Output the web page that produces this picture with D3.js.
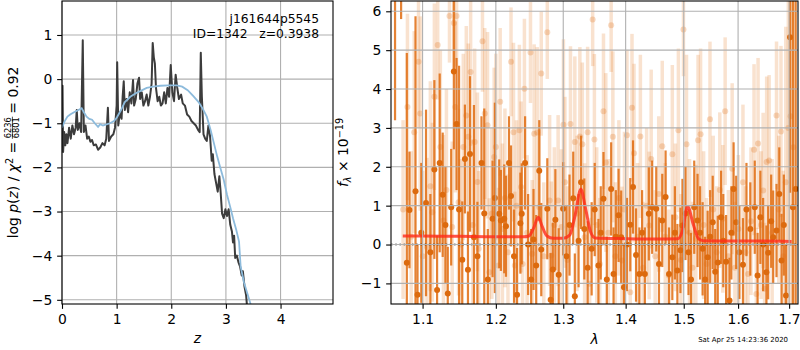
<!DOCTYPE html>
<html>
<head>
<meta charset="utf-8">
<script src="https://cdn.jsdelivr.net/npm/d3@7"></script>
<style>
  body { margin: 0; background: #fff; }
  text { font-family: "DejaVu Sans", sans-serif; }
</style>
</head>
<body>
<svg id="chart" width="800" height="350"></svg>
<script>
// ---------- left panel: p(z) ----------
var zTicks = [0, 1, 2, 3, 4];
var logpTicks = [-5, -4, -3, -2, -1, 0, 1];

var zDark = [0.00,0.01,0.02,0.04,0.06,0.08,0.10,0.13,0.16,0.19,0.22,0.25,0.27,0.29,0.32,0.35,0.38,0.40,0.43,0.46,
  0.49,0.52,0.55,0.58,0.62,0.66,0.70,0.74,0.78,0.81,0.84,0.86,0.90,0.94,0.97,1.00,1.01,1.03,1.06,1.09,
  1.11,1.13,1.15,1.18,1.21,1.24,1.27,1.30,1.32,1.35,1.38,1.41,1.43,1.46,1.49,1.52,1.55,1.58,1.61,1.64,
  1.66,1.68,1.70,1.72,1.75,1.78,1.81,1.84,1.87,1.90,1.93,1.96,1.99,2.02,2.05,2.08,2.11,2.14,2.18,2.21,
  2.25,2.29,2.33,2.37,2.41,2.45,2.49,2.52,2.54,2.56,2.59,2.62,2.65,2.68,2.71,2.74,2.76,2.79,2.82,2.85,
  2.88,2.90,2.93,2.96,2.99,3.02,3.05,3.08,3.11,3.13,3.15,3.17,3.20,3.23,3.26,3.29,3.31,3.34,3.37,3.39];
var logpDark = [-1.55,-0.15,-1.65,-1.2,-1.5,-1.25,-1.45,-1.1,-1.35,-1.05,-1.25,-1.1,-0.7,-1.15,-1.0,-1.2,0.88,-1.2,-1.05,-1.35,
  -1.3,-1.42,-1.38,-1.5,-1.48,-1.6,-1.55,-1.45,-1.5,-1.35,-0.65,-1.4,-1.3,-1.25,-1.1,-0.6,0.38,-1.05,-0.75,-0.9,
  -0.4,-0.05,-0.7,-0.45,-0.75,-0.3,-0.55,-0.02,-0.6,-0.45,-0.1,0.03,-0.45,-0.3,-0.6,-0.5,-0.35,-0.6,-0.4,-0.1,
  0.82,0.5,0.35,-0.2,-0.5,-0.4,-0.6,-0.55,-0.3,-0.55,-0.2,-0.4,0.32,-0.3,-0.5,0.1,-0.2,-0.45,-0.35,-0.55,
  -0.6,-0.8,-0.85,-0.95,-1.0,-1.05,-1.15,-1.2,0.6,-0.4,-1.25,-1.35,-1.4,-1.05,-1.3,-1.85,-1.7,-2.15,-2.35,-2.55,
  -2.2,-2.5,-3.05,-3.15,-2.95,-3.1,-2.95,-3.3,-3.45,-3.7,-3.55,-4.05,-4.0,-4.15,-4.25,-4.45,-4.35,-4.7,-4.9,-5.2];

var zFit = [0.00,0.05,0.10,0.15,0.22,0.30,0.36,0.40,0.45,0.50,0.55,0.60,0.66,0.70,0.75,0.80,0.88,0.95,1.00,1.08,
  1.15,1.25,1.35,1.45,1.55,1.67,1.80,1.95,2.10,2.20,2.30,2.40,2.50,2.58,2.65,2.72,2.78,2.84,2.90,2.96,
  3.02,3.08,3.13,3.19,3.24,3.27,3.33,3.44,3.50];
var logpFit = [-1.1,-0.95,-0.85,-0.8,-0.75,-0.7,-0.66,-0.75,-0.85,-0.9,-0.92,-1.0,-1.08,-1.02,-1.05,-1.03,-1.0,-0.95,-0.88,-0.7,
  -0.52,-0.4,-0.32,-0.26,-0.2,-0.17,-0.15,-0.14,-0.14,-0.17,-0.25,-0.38,-0.52,-0.68,-0.85,-1.15,-1.45,-1.75,-2.02,-2.28,
  -2.62,-2.9,-3.15,-3.42,-3.68,-4.25,-4.6,-5.05,-5.3];

// ---------- right panel: 1D spectrum ----------
var lamTicks = [1.1, 1.2, 1.3, 1.4, 1.5, 1.6, 1.7];
var fluxTicks = [-1, 0, 1, 2, 3, 4, 5, 6];

var lamDark = [1.0646,1.0723,1.0796,1.0830,1.0908,1.0934,1.0983,1.1045,1.1102,1.1155,1.1191,1.1226,1.1266,1.1303,1.1334,1.1380,
  1.1416,1.1453,1.1487,1.1531,1.1567,1.1609,1.1637,1.1692,1.1740,1.1797,1.1836,1.1886,1.1953,1.1986,1.2048,1.2072,
  1.2120,1.2145,1.2189,1.2218,1.2262,1.2306,1.2355,1.2375,1.2424,1.2469,1.2514,1.2549,1.2589,1.2635,1.2665,1.2756,
  1.2807,1.2840,1.2879,1.2930,1.2998,1.3050,1.3097,1.3155,1.3180,1.3239,1.3278,1.3329,1.3382,1.3446,1.3495,1.3555,
  1.3592,1.3636,1.3690,1.3761,1.3800,1.3838,1.3883,1.3926,1.3972,1.4022,1.4077,1.4123,1.4174,1.4230,1.4276,1.4323,
  1.4391,1.4448,1.4518,1.4565,1.4622,1.4680,1.4740,1.4798,1.4843,1.4887,1.4941,1.4977,1.5031,1.5085,1.5130,1.5188,
  1.5248,1.5294,1.5340,1.5386,1.5432,1.5478,1.5525,1.5571,1.5618,1.5680,1.5721,1.5774,1.5838,1.5873,1.5915,1.5964,
  1.6025,1.6093,1.6160,1.6234,1.6320,1.6375,1.6429,1.6483,1.6548,1.6582,1.6641,1.6681,1.6747,1.6802,1.6848,1.6893,
  1.6937,1.7018,1.7076,1.7133];
var fluxDark = [6.6,7.5,-0.47,0.89,1.37,-1.29,0.3,1.07,-0.2,1.93,-1.17,2.1,1.28,0.5,-1.26,0.96,
  4.45,3.1,0.9,-0.39,2.2,-0.65,2.33,0.19,-0.3,2.1,0.8,-0.9,0.66,1.2,0.79,0.62,
  0.66,0.47,2.1,1.25,-0.3,-1.29,0.55,0.79,2.1,0.0,-0.9,0.13,-0.54,1.9,-0.13,0.92,
  -1.42,-0.64,0.64,-0.78,0.92,-0.3,0.5,1.19,-1.33,0.1,1.6,0.4,-0.6,-0.11,0.9,-0.54,
  0.3,1.18,-0.9,1.43,-0.76,0.2,0.75,0.19,-1.1,0.0,0.51,1.48,-0.27,-0.76,0.3,-0.76,
  0.79,0.96,0.92,-0.5,0.62,1.22,-0.76,-0.33,0.3,-0.67,-0.15,0.49,0.8,-0.2,-0.9,0.96,
  0.62,0.3,-0.11,-0.9,-0.33,0.2,0.57,-0.7,-0.46,0.7,0.1,-0.44,-1.44,0.3,1.43,0.57,
  -0.2,-0.52,0.9,0.4,0.96,-0.8,0.7,0.0,-0.71,-0.21,0.6,0.19,0.36,1.3,-0.41,0.5,
  -1.31,5.33,0.96,1.43];
var errDark = [3.4,1.7,5.4,1.5,4.5,1.3,1.8,2.4,1.5,2.3,1.4,2.3,1.6,1.5,1.2,1.5,
  2.0,1.7,3.7,1.5,1.4,1.5,2.0,3.4,1.4,1.2,2.7,1.3,1.5,2.45,1.4,1.3,
  1.4,1.3,1.2,1.3,1.2,1.2,1.3,1.3,1.2,1.3,1.3,1.3,1.3,1.3,1.2,1.3,
  1.2,1.2,1.3,1.2,1.2,1.3,1.3,1.2,1.1,1.2,1.2,1.3,1.2,1.2,1.2,1.2,
  1.2,1.2,1.1,1.2,1.2,1.2,1.2,1.2,1.1,1.2,1.2,1.2,1.2,1.2,1.1,1.2,
  1.2,1.2,1.1,1.2,1.2,1.2,1.2,1.1,1.2,1.2,1.1,1.2,1.2,1.1,1.2,1.2,
  1.2,1.2,1.2,1.1,1.2,1.2,1.2,1.1,1.2,1.2,1.2,1.2,1.1,1.2,1.2,1.2,
  1.2,1.2,1.2,1.2,1.2,1.1,1.2,1.2,1.2,1.2,1.2,1.2,1.2,1.2,1.2,1.3,
  1.3,4.0,6.0,8.0];

var lamLight = [1.0748,1.0804,1.0852,1.0891,1.0947,1.0969,1.1002,1.1058,1.1102,1.1128,1.1155,1.1199,1.1235,1.1276,1.1316,1.1357,
  1.1394,1.1416,1.1436,1.1453,1.1480,1.1508,1.1545,1.1586,1.1614,1.1646,1.1674,1.1702,1.1740,1.1758,1.1811,1.1843,
  1.1882,1.1907,1.1943,1.1976,1.2000,1.2036,1.2062,1.2094,1.2130,1.2174,1.2218,1.2254,1.2274,1.2298,1.2340,1.2365,
  1.2387,1.2414,1.2454,1.2504,1.2529,1.2559,1.2604,1.2635,1.2665,1.2703,1.2756,1.2791,1.2817,1.2863,1.2921,1.2972,
  1.3003,1.3026,1.3065,1.3112,1.3180,1.3215,1.3259,1.3298,1.3334,1.3382,1.3414,1.3462,1.3490,1.3527,1.3576,1.3636,
  1.3674,1.3715,1.3761,1.3789,1.3830,1.3888,1.3938,1.3980,1.4022,1.4077,1.4106,1.4140,1.4200,1.4247,1.4293,1.4353,
  1.4397,1.4431,1.4500,1.4561,1.4622,1.4675,1.4737,1.4798,1.4852,1.4905,1.4950,1.4995,1.5049,1.5103,1.5157,1.5217,
  1.5257,1.5303,1.5358,1.5414,1.5475,1.5534,1.5599,1.5656,1.5712,1.5756,1.5816,1.5888,1.5939,1.6006,1.6093,1.6141,
  1.6189,1.6247,1.6306,1.6351,1.6384,1.6443,1.6483,1.6512,1.6552,1.6601,1.6661,1.6747,1.6792,1.6836,1.6882,1.6933,
  1.6984,1.7030,1.7086];
var fluxLight = [0.9,3.54,0.2,2.89,4.70,3.37,-0.3,-0.07,1.5,0.83,3.80,5.13,2.51,0.62,1.4,5.88,
  0.45,5.70,3.54,5.88,1.09,0.0,2.51,3.32,2.77,4.44,0.5,2.64,1.61,-0.11,5.23,3.37,
  3.07,-0.71,0.8,2.25,2.51,-0.54,3.67,0.4,1.2,-0.2,4.70,2.89,-0.54,1.0,2.94,1.48,
  -0.5,4.01,0.3,4.94,-0.24,2.85,2.88,0.96,4.40,-0.3,5.46,1.13,-0.28,0.5,1.13,0.45,
  3.08,1.6,-0.4,3.1,2.64,0.8,2.78,2.58,0.19,2.89,-1.01,5.79,2.70,0.5,-0.5,3.43,
  2.11,0.3,5.64,2.77,-0.3,1.2,-0.41,0.9,2.81,-1.23,3.52,2.35,0.2,2.78,-0.6,1.0,
  0.49,2.2,-0.3,1.3,2.53,0.2,-0.8,2.32,0.7,2.94,-0.4,5.53,2.58,0.3,-0.6,0.15,
  2.68,2.84,0.5,-0.5,3.22,0.9,-0.2,1.4,0.66,3.43,-0.3,1.95,-0.6,0.4,1.6,-0.2,
  -0.76,0.6,2.44,-1.27,2.60,0.5,1.39,-1.14,2.12,2.16,0.3,3.32,0.9,2.91,-0.3,1.6,
  3.0,3.30,2.5];
var errLight = [2.3,2.4,2.2,2.6,1.7,2.5,2.2,2.3,2.7,2.3,2.4,1.4,2.5,2.2,2.6,1.2,
  2.2,1.2,2.2,1.3,2.4,2.2,2.4,2.3,2.4,1.9,2.2,2.4,2.3,2.0,1.3,2.2,
  2.4,1.9,2.2,2.3,2.4,2.0,1.9,2.2,2.3,2.0,1.4,2.3,1.9,2.2,2.2,2.2,
  1.9,1.8,2.0,1.3,1.9,2.3,2.2,2.0,1.6,1.9,1.2,2.2,1.9,2.0,2.2,2.0,
  2.2,2.2,1.9,2.0,2.2,2.0,2.3,2.1,1.9,2.2,1.7,1.2,2.2,2.0,1.7,2.0,
  2.3,1.9,1.2,2.2,1.9,2.0,1.9,2.0,2.2,1.7,1.9,2.3,1.9,2.1,1.7,2.0,
  1.9,2.3,1.7,2.0,2.2,1.9,1.7,2.3,1.9,2.1,1.7,1.2,2.3,1.9,1.7,1.9,
  2.2,2.2,1.9,1.7,2.0,1.9,1.7,2.0,1.9,1.9,1.7,2.2,1.7,1.9,2.0,1.7,
  1.7,1.9,2.2,1.7,2.2,1.9,2.0,1.7,2.2,2.2,1.9,1.9,1.9,2.2,2.2,4.0,
  6.0,7.0,8.0];

var lamModel = [1.0744,1.10,1.15,1.20,1.24,1.248,1.255,1.262,1.268,1.275,1.285,1.30,1.31,1.318,1.3275,1.335,1.343,1.35,
  1.40,1.45,1.49,1.497,1.507,1.517,1.527,1.535,1.60,1.65,1.705];
var fluxModel = [0.22,0.22,0.21,0.20,0.20,0.22,0.42,0.70,0.46,0.22,0.16,0.16,0.24,0.72,1.42,0.92,0.32,0.17,
  0.15,0.14,0.15,0.32,0.98,0.52,0.14,0.10,0.09,0.09,0.08];

var fontF = '"DejaVu Sans", sans-serif';
var svg = d3.select("#chart");
var gridColor = "#b0b0b0";
var orange = "#e06c10";

function styleAxis(g) {
  g.select(".domain").remove();
  g.attr("font-family", fontF).attr("font-size", 13.9);
  g.selectAll(".tick line").attr("stroke", "#000").attr("stroke-width", 1.1);
  g.selectAll(".tick text").attr("fill", "#000");
}

// ================= LEFT PANEL =================
var L = {left: 62, right: 333, top: 1, bottom: 304};
var xz = d3.scaleLinear().domain([0, 4.96]).range([L.left, L.right]);
var yp = d3.scaleLinear().domain([-5.095, 1.77]).range([L.bottom, L.top]);

svg.append("clipPath").attr("id", "clipL").append("rect")
  .attr("x", L.left).attr("y", L.top).attr("width", L.right - L.left).attr("height", L.bottom - L.top);

var gl = svg.append("g");
gl.selectAll(".gx").data(zTicks).join("line")
  .attr("x1", function(d) { return xz(d); }).attr("x2", function(d) { return xz(d); })
  .attr("y1", L.top).attr("y2", L.bottom).attr("stroke", gridColor).attr("stroke-width", 1.1);
gl.selectAll(".gy").data(logpTicks).join("line")
  .attr("y1", function(d) { return yp(d); }).attr("y2", function(d) { return yp(d); })
  .attr("x1", L.left).attr("x2", L.right).attr("stroke", gridColor).attr("stroke-width", 1.1);

var lineL = d3.line().x(function(d) { return xz(d[0]); }).y(function(d) { return yp(d[1]); });
var plotL = gl.append("g").attr("clip-path", "url(#clipL)");
plotL.append("path").datum(d3.zip(zDark, logpDark)).attr("d", lineL)
  .attr("fill", "none").attr("stroke", "#3c3c3c").attr("stroke-width", 2).attr("stroke-linejoin", "round");
plotL.append("path").datum(d3.zip(zFit, logpFit)).attr("d", lineL)
  .attr("fill", "none").attr("stroke", "#8dbbdc").attr("stroke-width", 1.8);

gl.append("g").attr("transform", "translate(0," + L.bottom + ")")
  .call(d3.axisBottom(xz).tickValues(zTicks).tickFormat(d3.format("d")).tickSize(4.86).tickPadding(4.86))
  .call(styleAxis);
gl.append("g").attr("transform", "translate(" + L.left + ",0)")
  .call(d3.axisLeft(yp).tickValues(logpTicks).tickFormat(d3.format("d")).tickSize(4.86).tickPadding(4.86))
  .call(styleAxis);
gl.append("rect").attr("x", L.left).attr("y", L.top).attr("width", L.right - L.left).attr("height", L.bottom - L.top)
  .attr("fill", "none").attr("stroke", "#000").attr("stroke-width", 1.1);

gl.append("text").attr("x", 319).attr("y", 23).attr("text-anchor", "end").attr("font-size", 12.3)
  .text("j161644p5545");
gl.append("text").attr("x", 319).attr("y", 37.7).attr("text-anchor", "end").attr("font-size", 12.3)
  .style("white-space", "pre").text("ID=1342   z=0.3938");

gl.append("text").attr("x", (L.left + L.right) / 2).attr("y", 343).attr("text-anchor", "middle")
  .attr("font-size", 13.9).attr("font-style", "italic").text("z");

// y label with a small fraction
var ylab = svg.append("g").attr("transform", "translate(18,152.5) rotate(-90)")
  .attr("font-family", fontF).style("white-space", "pre");
var tA = ylab.append("text").attr("font-size", 13.9);
tA.append("tspan").text("log ");
tA.append("tspan").attr("font-style", "italic").text("p");
tA.append("tspan").text("(");
tA.append("tspan").attr("font-style", "italic").text("z");
tA.append("tspan").text(") / ");
tA.append("tspan").attr("font-style", "italic").text("\u03c7");
tA.append("tspan").attr("font-size", 9.7).attr("dy", -5.5).text("2");
tA.append("tspan").attr("dy", 5.5).text(" = ");
var tN = ylab.append("text").attr("font-size", 8.3).attr("text-anchor", "middle").text("6236");
var tD = ylab.append("text").attr("font-size", 8.3).attr("text-anchor", "middle").text("6801");
var tC = ylab.append("text").attr("font-size", 13.9).text(" = 0.92");
var wA = tA.node().getComputedTextLength() + 2;
var wF = Math.max(tN.node().getComputedTextLength(), tD.node().getComputedTextLength()) + 3;
var wC = tC.node().getComputedTextLength();
var u0 = -(wA + wF + wC + 2) / 2;
tA.attr("x", u0);
tN.attr("x", u0 + wA + wF / 2).attr("y", -7.3);
tD.attr("x", u0 + wA + wF / 2).attr("y", 0.9);
ylab.append("line").attr("x1", u0 + wA + 1).attr("x2", u0 + wA + wF - 1)
  .attr("y1", -5.6).attr("y2", -5.6).attr("stroke", "#000").attr("stroke-width", 0.7);
tC.attr("x", u0 + wA + wF + 2);

// ================= RIGHT PANEL =================
var R = {left: 391, right: 798, top: 1, bottom: 304};
var xl = d3.scaleLog().domain([1.0595, 1.718]).range([R.left, R.right]);
var yf = d3.scaleLinear().domain([-1.53, 6.265]).range([R.bottom, R.top]);

svg.append("clipPath").attr("id", "clipR").append("rect")
  .attr("x", R.left).attr("y", R.top).attr("width", R.right - R.left).attr("height", R.bottom - R.top);

var gr = svg.append("g");
var plotR = gr.append("g").attr("clip-path", "url(#clipR)");

var light = d3.range(lamLight.length);
var dark = d3.range(lamDark.length);

plotR.append("g").selectAll("line").data(light).join("line")
  .attr("x1", function(i) { return xl(lamLight[i]); }).attr("x2", function(i) { return xl(lamLight[i]); })
  .attr("y1", function(i) { return yf(fluxLight[i] - errLight[i]); })
  .attr("y2", function(i) { return yf(fluxLight[i] + errLight[i]); })
  .attr("stroke", orange).attr("stroke-opacity", 0.2).attr("stroke-width", 3.5);
plotR.append("g").selectAll("circle").data(light).join("circle")
  .attr("cx", function(i) { return xl(lamLight[i]); }).attr("cy", function(i) { return yf(fluxLight[i]); })
  .attr("r", 3).attr("fill", orange).attr("fill-opacity", 0.25);

plotR.append("g").selectAll("line").data(dark).join("line")
  .attr("x1", function(i) { return xl(lamDark[i]); }).attr("x2", function(i) { return xl(lamDark[i]); })
  .attr("y1", function(i) { return yf(fluxDark[i] - errDark[i]); })
  .attr("y2", function(i) { return yf(fluxDark[i] + errDark[i]); })
  .attr("stroke", orange).attr("stroke-opacity", 0.85).attr("stroke-width", 2.2);
plotR.append("g").selectAll("circle").data(dark).join("circle")
  .attr("cx", function(i) { return xl(lamDark[i]); }).attr("cy", function(i) { return yf(fluxDark[i]); })
  .attr("r", 3).attr("fill", "#dc6a0e");

plotR.append("path").datum(d3.zip(lamModel, fluxModel))
  .attr("d", d3.line().curve(d3.curveMonotoneX).x(function(d) { return xl(d[0]); }).y(function(d) { return yf(d[1]); }))
  .attr("fill", "none").attr("stroke", "#ff2a1a").attr("stroke-opacity", 0.8).attr("stroke-width", 3);

plotR.append("line").attr("x1", R.left).attr("x2", R.right).attr("y1", yf(0)).attr("y2", yf(0))
  .attr("stroke", "#000").attr("stroke-width", 1.6).attr("stroke-dasharray", "1.6,2.6");

gr.selectAll(".gx").data(lamTicks).join("line")
  .attr("x1", function(d) { return xl(d); }).attr("x2", function(d) { return xl(d); })
  .attr("y1", R.top).attr("y2", R.bottom).attr("stroke", gridColor).attr("stroke-width", 1.1);
gr.selectAll(".gy").data(fluxTicks).join("line")
  .attr("y1", function(d) { return yf(d); }).attr("y2", function(d) { return yf(d); })
  .attr("x1", R.left).attr("x2", R.right).attr("stroke", gridColor).attr("stroke-width", 1.1);

gr.append("g").attr("transform", "translate(0," + R.bottom + ")")
  .call(d3.axisBottom(xl).tickValues(lamTicks).tickFormat(d3.format(".1f")).tickSize(4.86).tickPadding(4.86))
  .call(styleAxis);
gr.append("g").attr("transform", "translate(" + R.left + ",0)")
  .call(d3.axisLeft(yf).tickValues(fluxTicks).tickFormat(d3.format("d")).tickSize(4.86).tickPadding(4.86))
  .call(styleAxis);
gr.append("rect").attr("x", R.left).attr("y", R.top).attr("width", R.right - R.left).attr("height", R.bottom - R.top)
  .attr("fill", "none").attr("stroke", "#000").attr("stroke-width", 1.1);

gr.append("text").attr("x", (R.left + R.right) / 2).attr("y", 344).attr("text-anchor", "middle")
  .attr("font-size", 13.9).attr("font-style", "italic").text("\u03bb");

var flab = svg.append("text").attr("transform", "translate(348,152.5) rotate(-90)")
  .attr("text-anchor", "middle").attr("font-size", 13.9).style("white-space", "pre");
flab.append("tspan").attr("font-style", "italic").text("f");
flab.append("tspan").attr("font-style", "italic").attr("font-size", 9.7).attr("dy", 3).text("\u03bb");
flab.append("tspan").attr("dy", -3).text(" \u00d7 10");
flab.append("tspan").attr("font-size", 9.7).attr("dy", -5.5).text("\u221219");

svg.append("text").attr("x", 788).attr("y", 342).attr("text-anchor", "end")
  .attr("font-size", 6.94).text("Sat Apr 25 14:23:36 2020");
</script>
</body>
</html>
